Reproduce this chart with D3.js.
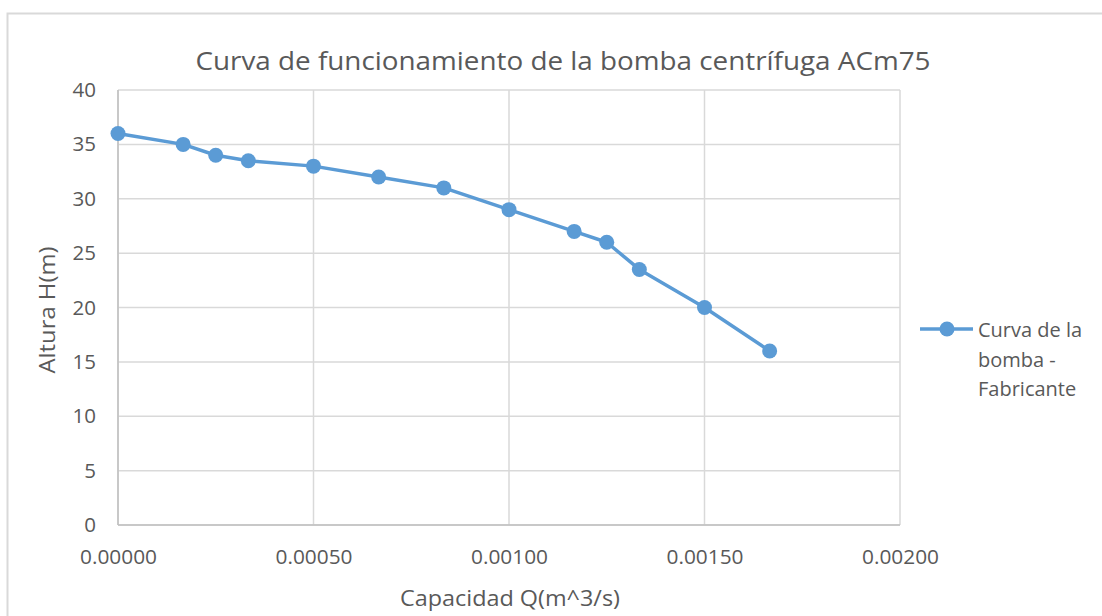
<!DOCTYPE html>
<html><head><meta charset="utf-8">
<script src="https://cdn.jsdelivr.net/npm/d3@7"></script>
<style>body{margin:0;background:#fff}svg{display:block}text{font-family:"Open Sans","Noto Sans",sans-serif}</style>
</head><body><svg id="c" width="1102" height="616"></svg>
<script>
const flowQ = [0, 0.000166667, 0.00025, 0.000333333, 0.0005, 0.000666667, 0.000833333, 0.001, 0.001166667, 0.00125, 0.001333333, 0.0015, 0.001666667];
const headH = [36, 35, 34, 33.5, 33, 32, 31, 29, 27, 26, 23.5, 20, 16];
const xTicks = [0, 0.0005, 0.001, 0.0015, 0.002];
const yTicks = [0, 5, 10, 15, 20, 25, 30, 35, 40];
const titleText = "Curva de funcionamiento de la bomba centrífuga ACm75";
const xTitle = "Capacidad Q(m^3/s)";
const yTitle = "Altura H(m)";
const legendLines = ["Curva de la", "bomba -", "Fabricante"];

const svg = d3.select("#c");
const blue = "#5b9bd5", grid = "#d9d9d9", txt = "#595959";
svg.append("path").attr("d","M7.5,616 L7.5,13.5 L1102,13.5").attr("fill","none").attr("stroke","#d9d9d9").attr("stroke-width",2);

const L=118, R=900, T=90, B=525;
const x = d3.scaleLinear().domain([0,0.002]).range([L,R]);
const y = d3.scaleLinear().domain([0,40]).range([B,T]);

const g = svg.append("g");
g.selectAll(".hg").data(yTicks).join("line").attr("x1",L).attr("x2",R).attr("y1",d=>y(d)).attr("y2",d=>y(d)).attr("stroke",grid).attr("stroke-width",1.5);
g.selectAll(".vg").data(xTicks).join("line").attr("y1",T).attr("y2",B).attr("x1",d=>x(d)).attr("x2",d=>x(d)).attr("stroke",grid).attr("stroke-width",1.5);
g.append("line").attr("x1",L).attr("x2",L).attr("y1",T).attr("y2",B).attr("stroke","#bfbfbf").attr("stroke-width",1.5);
g.append("line").attr("x1",L).attr("x2",R).attr("y1",B).attr("y2",B).attr("stroke","#bfbfbf").attr("stroke-width",1.5);

const ya = svg.append("g").attr("transform",`translate(${L},0)`).call(d3.axisLeft(y).tickValues(yTicks).tickSize(0).tickPadding(22).tickFormat(d3.format("d")));
const xa = svg.append("g").attr("transform",`translate(0,${B})`).call(d3.axisBottom(x).tickValues(xTicks).tickSize(0).tickPadding(24).tickFormat(d3.format(".5f")));
[ya,xa].forEach(a=>{a.select(".domain").remove();a.selectAll("text").attr("fill",txt).attr("font-size",20.5).style("font-family","'Open Sans','Noto Sans',sans-serif");});
xa.selectAll("text").attr("textLength",77).attr("lengthAdjust","spacingAndGlyphs");

const pts = flowQ.map((q,i)=>[q,headH[i]]);
svg.append("path").datum(pts).attr("d",d3.line().x(d=>x(d[0])).y(d=>y(d[1]))).attr("fill","none").attr("stroke",blue).attr("stroke-width",3.5).attr("stroke-linejoin","round");
svg.selectAll(".pt").data(pts).join("circle").attr("cx",d=>x(d[0])).attr("cy",d=>y(d[1])).attr("r",7.5).attr("fill",blue);

svg.append("text").attr("x",563).attr("y",70).attr("text-anchor","middle").attr("font-size",26).attr("fill",txt).attr("textLength",735).attr("lengthAdjust","spacingAndGlyphs").text(titleText);
svg.append("text").attr("x",510).attr("y",606).attr("text-anchor","middle").attr("font-size",21).attr("fill",txt).attr("textLength",220).attr("lengthAdjust","spacingAndGlyphs").text(xTitle);
svg.append("text").attr("transform","translate(55,310) rotate(-90)").attr("text-anchor","middle").attr("font-size",21).attr("fill",txt).attr("textLength",127).attr("lengthAdjust","spacingAndGlyphs").text(yTitle);

svg.append("line").attr("x1",920).attr("x2",973).attr("y1",329).attr("y2",329).attr("stroke",blue).attr("stroke-width",3.5);
svg.append("circle").attr("cx",947).attr("cy",329).attr("r",7.5).attr("fill",blue);
svg.selectAll(".lg").data(legendLines).join("text").attr("x",978).attr("y",(d,i)=>337+i*29.5).attr("font-size",20).attr("fill",txt).text(d=>d);
</script></body></html>
